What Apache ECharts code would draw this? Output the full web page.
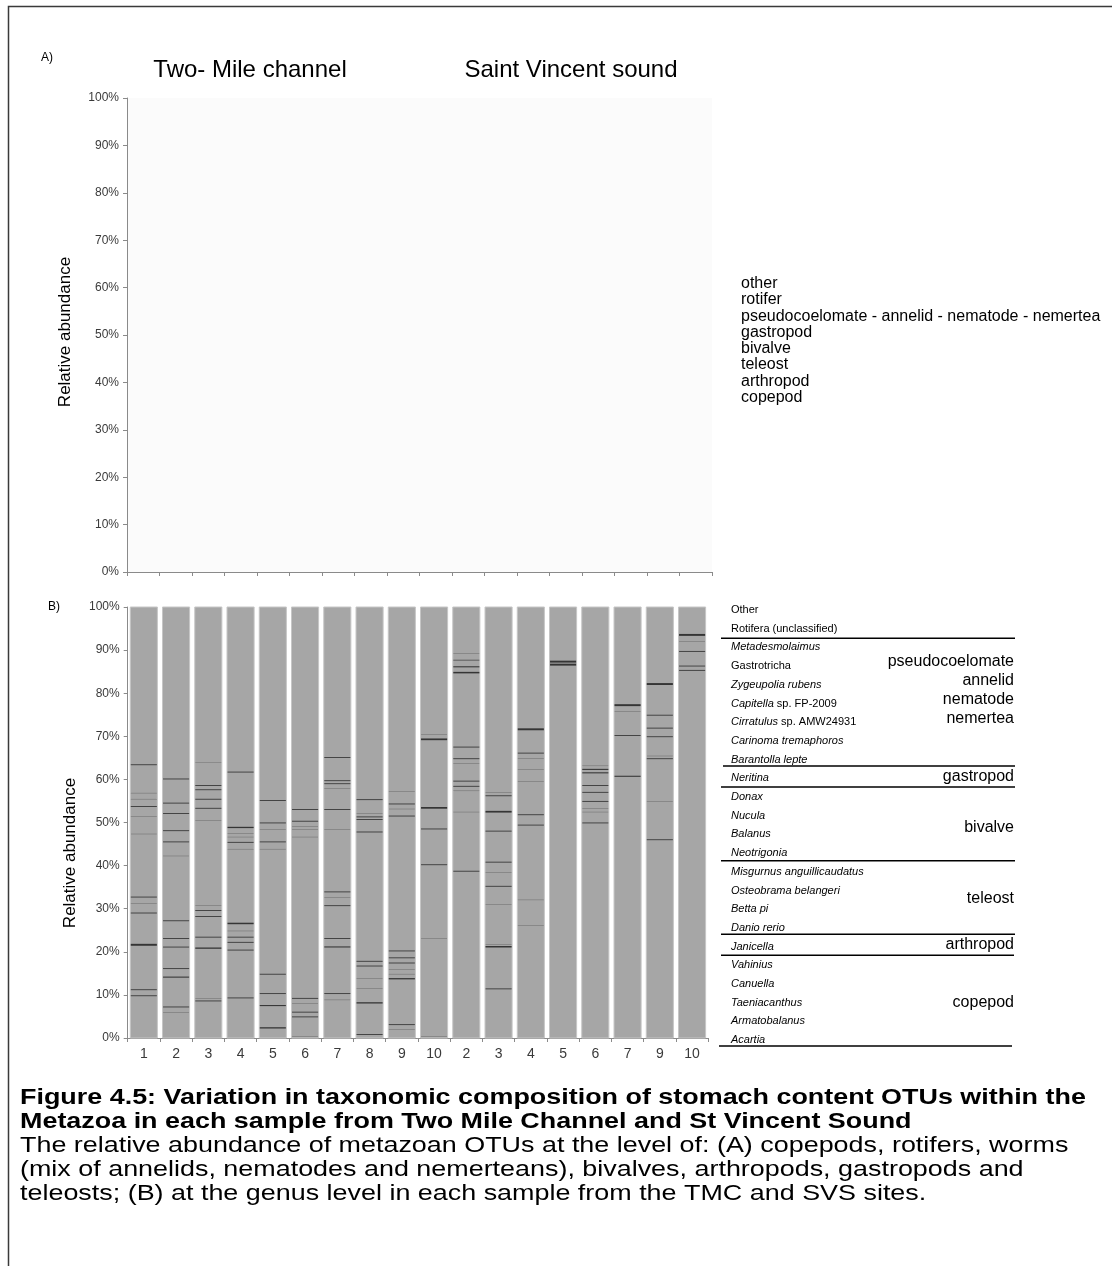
<!DOCTYPE html>
<html>
<head>
<meta charset="utf-8">
<script src="https://cdn.jsdelivr.net/npm/echarts@6.0.0/dist/echarts.min.js"></script>
<style>
  html, body { margin: 0; padding: 0; background: #fff; }
  #chart { width: 1112px; height: 1266px; }
</style>
</head>
<body>
<div id="chart"></div>
<script>
// Sample labels along the x axis: Two-Mile channel (TMC) then Saint Vincent sound (SVS)
const tmcSamples = ['1', '2', '3', '4', '5', '6', '7', '8', '9', '10'];
const svsSamples = ['2', '3', '4', '5', '6', '7', '9', '10'];

// Y axis ticks (relative abundance, %)
const yTicks = [0, 10, 20, 30, 40, 50, 60, 70, 80, 90, 100];

// Minor OTU slices within each stacked sample column:
// [cumulative level where the slice sits (%), its relative abundance (%)]
const tmcBands = [
  [[63.3,0.2],[56.8,0.06],[55.4,0.06],[53.6,0.2],[51.4,0.06],[47.3,0.06],[32.6,0.2],[31.2,0.06],[28.9,0.2],[21.4,0.45],[11.1,0.2],[9.7,0.2]],
  [[60.0,0.2],[54.4,0.2],[52.0,0.2],[48.0,0.2],[45.4,0.2],[42.2,0.06],[27.1,0.2],[23.0,0.2],[21.0,0.2],[16.0,0.2],[14.0,0.25],[7.1,0.2],[5.9,0.06]],
  [[63.8,0.06],[58.5,0.2],[57.5,0.2],[55.3,0.2],[53.2,0.2],[50.4,0.06],[30.7,0.06],[29.5,0.2],[28.1,0.2],[23.3,0.2],[20.7,0.3],[9.2,0.06],[8.5,0.2]],
  [[61.6,0.2],[48.7,0.3],[47.5,0.06],[46.6,0.06],[45.3,0.2],[43.8,0.06],[26.4,0.35],[24.8,0.06],[23.3,0.2],[22.1,0.2],[20.3,0.2],[9.2,0.2]],
  [[55.0,0.2],[49.8,0.2],[48.3,0.06],[45.4,0.2],[43.8,0.06],[14.7,0.2],[10.2,0.2],[7.4,0.25],[2.2,0.3]],
  [[52.9,0.2],[50.2,0.2],[49.0,0.06],[48.3,0.06],[46.6,0.06],[9.1,0.2],[8.0,0.06],[5.9,0.2],[4.8,0.2],[0.3,0.06]],
  [[65.0,0.2],[59.6,0.2],[58.9,0.2],[57.9,0.06],[52.9,0.2],[48.3,0.06],[33.8,0.2],[32.6,0.06],[30.6,0.2],[23.0,0.2],[21.0,0.25],[10.2,0.2],[8.8,0.06]],
  [[55.2,0.2],[52.1,0.06],[51.2,0.2],[50.6,0.2],[47.7,0.2],[17.7,0.2],[16.6,0.2],[13.7,0.06],[11.5,0.06],[8.0,0.3],[0.7,0.2]],
  [[57.2,0.06],[54.2,0.2],[53.1,0.06],[51.4,0.2],[20.1,0.2],[18.5,0.2],[17.3,0.2],[15.8,0.06],[14.8,0.06],[13.6,0.3],[3.0,0.2],[1.9,0.06]],
  [[70.3,0.06],[69.1,0.4],[53.2,0.4],[48.4,0.2],[40.1,0.2],[23.0,0.06],[0.3,0.06]]
];
const svsBands = [
  [[89.1,0.06],[87.6,0.15],[86.0,0.25],[84.6,0.35],[67.4,0.2],[64.7,0.2],[63.7,0.06],[59.5,0.2],[58.3,0.2],[57.3,0.06],[52.4,0.06],[38.6,0.2]],
  [[56.9,0.06],[56.1,0.2],[52.3,0.4],[47.9,0.2],[40.7,0.2],[38.4,0.06],[35.1,0.2],[30.9,0.06],[21.7,0.06],[21.0,0.35],[11.3,0.2]],
  [[71.4,0.45],[66.0,0.2],[64.9,0.06],[62.3,0.06],[59.5,0.06],[51.7,0.2],[49.3,0.2],[32.0,0.06],[26.0,0.06]],
  [[87.1,0.45],[86.4,0.45]],
  [[63.1,0.06],[62.2,0.25],[61.4,0.25],[58.5,0.2],[56.9,0.2],[54.8,0.2],[53.3,0.06],[52.4,0.06],[49.8,0.2]],
  [[77.0,0.45],[75.7,0.06],[70.1,0.2],[60.6,0.25]],
  [[81.9,0.45],[74.8,0.2],[71.8,0.2],[69.8,0.2],[65.4,0.06],[64.7,0.2],[54.8,0.06],[45.9,0.2]],
  [[93.3,0.45],[92.0,0.06],[89.6,0.2],[86.2,0.2],[85.2,0.2]]
];

// Panel A legend (broad groups) and panel B legend (genera, top of the stack first)
const groupsA = ['other', 'rotifer', 'pseudocoelomate - annelid - nematode - nemertea',
  'gastropod', 'bivalve', 'teleost', 'arthropod', 'copepod'];
const generaB = [
  ['Other', false], ['Rotifera (unclassified)', false],
  ['Metadesmolaimus', true], ['Gastrotricha', false], ['Zygeupolia rubens', true],
  ['Capitella| sp. FP-2009', true], ['Cirratulus| sp. AMW24931', true],
  ['Carinoma tremaphoros', true], ['Barantolla lepte', true],
  ['Neritina', true],
  ['Donax', true], ['Nucula', true], ['Balanus', true], ['Neotrigonia', true],
  ['Misgurnus anguillicaudatus', true], ['Osteobrama belangeri', true], ['Betta pi', true], ['Danio rerio', true],
  ['Janicella', true],
  ['Vahinius', true], ['Canuella', true], ['Taeniacanthus', true], ['Armatobalanus', true], ['Acartia', true]
];
// Group names beside the genus table
const groupNamesB = ['pseudocoelomate', 'annelid', 'nematode', 'nemertea',
  'gastropod', 'bivalve', 'teleost', 'arthropod', 'copepod'];

const FONT = '"Liberation Sans", Arial, Helvetica, sans-serif';
const AXIS_GREY = '#8a8a8a';
const LABEL_GREY = '#3a3a3a';

const samples = tmcSamples.concat(svsSamples);
const bands = tmcBands.concat(svsBands);

const chart = echarts.init(document.getElementById('chart'), null, { renderer: 'canvas' });

function yAxisFor(gridIndex) {
  return {
    type: 'value', gridIndex, min: 0, max: 100, interval: 10,
    axisLine: { show: true, lineStyle: { color: AXIS_GREY, width: 1 } },
    axisTick: { show: true, length: 4, lineStyle: { color: AXIS_GREY } },
    splitLine: { show: false },
    axisLabel: {
      margin: 8, color: LABEL_GREY, fontSize: 12, fontFamily: FONT,
      formatter: v => yTicks.includes(v) ? v + '%' : ''
    }
  };
}

function xAxisFor(gridIndex, showLabels) {
  return {
    type: 'category', gridIndex, data: samples,
    axisLine: { show: true, lineStyle: { color: AXIS_GREY, width: 1 } },
    axisTick: { show: true, length: 4, lineStyle: { color: AXIS_GREY } },
    axisLabel: { show: showLabels, margin: 9, color: LABEL_GREY, fontSize: 14, fontFamily: FONT, interval: 0 }
  };
}

// One column per sample: full grey stack, with darker slices for the minor OTUs
function renderSample(params, api) {
  const i = api.value(0);
  const slot = api.size([1, 0])[0];
  const w = slot * 0.84;
  const base = api.coord([i, 0]);
  const top = api.coord([i, 100]);
  const x = base[0] - w / 2;
  const children = [{
    type: 'rect',
    shape: { x, y: top[1], width: w, height: base[1] - top[1] },
    style: { fill: '#a6a6a6', stroke: '#c6c6c6', lineWidth: 1 }
  }];
  bands[i].forEach(([level, abundance]) => {
    const lo = api.coord([i, level]);
    const hi = api.coord([i, level + abundance]);
    children.push({
      type: 'rect',
      shape: { x: x + 0.5, y: hi[1], width: w - 1, height: lo[1] - hi[1] },
      style: { fill: '#353535' }
    });
  });
  return { type: 'group', children };
}

// Text, legend tables and frame
const graphics = [];
function text(x, y, str, opts, extra) {
  graphics.push(Object.assign({
    type: 'text', x, y,
    style: Object.assign({ text: str, fill: '#000', fontFamily: FONT, fontSize: 14,
      textAlign: 'left', textVerticalAlign: 'middle' }, opts || {})
  }, extra || {}));
}

graphics.push({ type: 'rect', shape: { x: 8.5, y: 6.5, width: 1200, height: 1300 },
  style: { fill: 'none', stroke: '#3a3a3a', lineWidth: 1.5 }, silent: true });

text(41, 58, 'A)', { fontSize: 12 });
text(250, 70, 'Two- Mile channel', { fontSize: 24, textAlign: 'center' });
text(571, 70, 'Saint Vincent sound', { fontSize: 24, textAlign: 'center' });
text(48, 607, 'B)', { fontSize: 12 });

text(65, 332, 'Relative abundance', { fontSize: 17, textAlign: 'center' }, { rotation: Math.PI / 2 });
text(70, 853, 'Relative abundance', { fontSize: 17, textAlign: 'center' }, { rotation: Math.PI / 2 });

groupsA.forEach((g, k) => text(741, 283.5 + k * 16.3, g, { fontSize: 16 }));

const rowY = k => 610 + k * 18.7;
generaB.forEach(([name, italic], k) => {
  if (name.includes('|')) {
    const [genus, rest] = name.split('|');
    text(731, rowY(k), '{i|' + genus + '}{n|' + rest + '}', {
      fontSize: 11,
      rich: { i: { fontStyle: 'italic', fontSize: 11, fontFamily: FONT }, n: { fontSize: 11, fontFamily: FONT } }
    });
  } else {
    text(731, rowY(k), name, { fontSize: 11, fontStyle: italic ? 'italic' : 'normal' });
  }
});
// Rules separating the groups in panel B's legend
[[638.3, 721, 1015], [766, 723, 1015], [787, 721, 1015], [860.7, 721, 1015], [934.3, 721, 1015], [955.3, 721, 1014], [1046, 719, 1012]]
  .forEach(([y, x1, x2]) => graphics.push({ type: 'line', shape: { x1, y1: y, x2, y2: y },
    style: { stroke: '#000', lineWidth: 1.6 }, silent: true }));
[662, 681, 700, 719, 777, 828, 899, 945, 1003].forEach((y, k) =>
  text(1014, y, groupNamesB[k], { fontSize: 16, textAlign: 'right' }));

// Caption (set in a widened face)
const CAPTION_STRETCH = { scaleX: 1.223 };
text(20, 1098, 'Figure 4.5: Variation in taxonomic composition of stomach content OTUs within the',
  { fontSize: 22, fontWeight: 'bold' }, CAPTION_STRETCH);
text(20, 1122, 'Metazoa in each sample from Two Mile Channel and St Vincent Sound',
  { fontSize: 22, fontWeight: 'bold' }, CAPTION_STRETCH);
['The relative abundance of metazoan OTUs at the level of: (A) copepods, rotifers, worms',
 '(mix of annelids, nematodes and nemerteans), bivalves, arthropods, gastropods and',
 'teleosts; (B) at the genus level in each sample from the TMC and SVS sites.']
  .forEach((line, k) => text(20, 1146 + k * 24, line, { fontSize: 22 }, CAPTION_STRETCH));

chart.setOption({
  animation: false,
  backgroundColor: '#ffffff',
  grid: [
    { left: 127, top: 98, width: 585, height: 474, show: true, backgroundColor: '#fbfbfb', borderWidth: 0 },
    { left: 127.7, top: 607, width: 580.5, height: 431 }
  ],
  xAxis: [xAxisFor(0, false), xAxisFor(1, true)],
  yAxis: [yAxisFor(0), yAxisFor(1)],
  series: [
    { type: 'custom', xAxisIndex: 0, yAxisIndex: 0, data: [] },
    {
      type: 'custom', xAxisIndex: 1, yAxisIndex: 1,
      renderItem: renderSample,
      data: samples.map((s, i) => [i]),
      encode: { x: 0 }
    }
  ],
  graphic: { elements: graphics }
});
</script>
</body>
</html>
